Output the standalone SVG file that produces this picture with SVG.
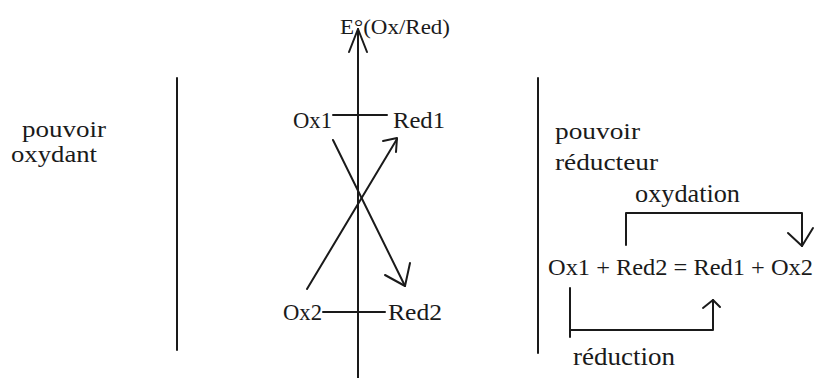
<svg xmlns="http://www.w3.org/2000/svg" width="816" height="378" viewBox="0 0 816 378" font-family="'Liberation Serif', 'DejaVu Serif', serif">
<style>
text{font-family:'Liberation Serif','DejaVu Serif',serif;fill:#1a1a1a}
.n{font-size:24px}
.l{font-size:24px}
.s{stroke:#1a1a1a;stroke-width:2;fill:none;stroke-linecap:round;stroke-linejoin:round}
</style>
<rect width="816" height="378" fill="#fff"/>
<g id="dividers">
<line class="s" x1="177" y1="78" x2="177" y2="350"/>
<line class="s" x1="538" y1="78" x2="538" y2="353"/>
</g>
<g id="label-oxydant">
<text class="l" x="22" y="137" textLength="84" lengthAdjust="spacingAndGlyphs">pouvoir</text>
<text class="l" x="11" y="162" textLength="86" lengthAdjust="spacingAndGlyphs">oxydant</text>
</g>
<g id="label-reducteur">
<text class="l" x="555" y="139" textLength="85" lengthAdjust="spacingAndGlyphs">pouvoir</text>
<text class="l" x="555" y="170" textLength="103" lengthAdjust="spacingAndGlyphs">réducteur</text>
</g>
<g id="axis">
<line class="s" x1="358" y1="29" x2="358" y2="378"/>
<polyline class="s" points="349,52 358,29 367,52"/>
<text x="340" y="34" font-size="21" textLength="110" lengthAdjust="spacingAndGlyphs">E°(Ox/Red)</text>
</g>
<g id="couple1">
<text class="n" x="293" y="128" textLength="39" lengthAdjust="spacingAndGlyphs">Ox1</text>
<line class="s" x1="333" y1="115" x2="387" y2="115"/>
<text class="n" x="393" y="128" textLength="52" lengthAdjust="spacingAndGlyphs">Red1</text>
</g>
<g id="couple2">
<text class="n" x="283" y="320" textLength="39" lengthAdjust="spacingAndGlyphs">Ox2</text>
<line class="s" x1="323" y1="312" x2="385" y2="312"/>
<text class="n" x="388" y="320" textLength="54" lengthAdjust="spacingAndGlyphs">Red2</text>
</g>
<g id="connectors">
<line class="s" x1="333" y1="140" x2="405" y2="286"/>
<polyline class="s" points="385,275 405,286 410,263"/>
<line class="s" x1="307" y1="289" x2="397" y2="139"/>
<polyline class="s" points="383,141 397,138 396,152"/>
<polyline class="s" points="626,245 626,213 802,213 802,246"/>
<polyline class="s" points="788,233 802,246 813,228"/>
<polyline class="s" points="570,288 570,337"/>
<polyline class="s" points="570,330 713,330 713,300"/>
<polyline class="s" points="703,308 713,300 720,307"/>
</g>
<g id="equation">
<text x="635" y="202" font-size="25" textLength="105" lengthAdjust="spacingAndGlyphs">oxydation</text>
<text x="548" y="275" font-size="24" textLength="265" lengthAdjust="spacingAndGlyphs">Ox1 + Red2 = Red1 + Ox2</text>
<text x="573" y="365" font-size="25" textLength="102" lengthAdjust="spacingAndGlyphs">réduction</text>
</g>
</svg>
